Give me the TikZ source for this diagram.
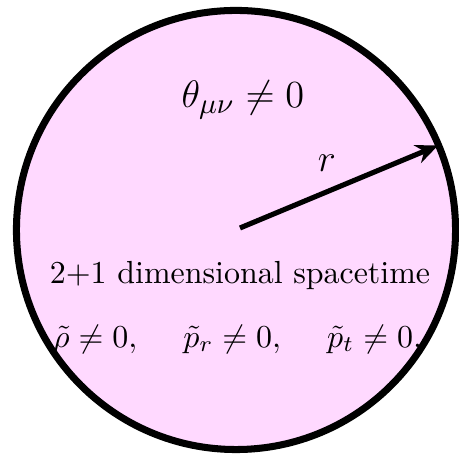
\documentclass[tikz,border=0pt]{standalone}
\usepackage{amsmath}
\usepackage{xcolor}
\usetikzlibrary{arrows.meta, positioning}
\definecolor{diskpink}{RGB}{255,217,255}

\begin{document}
\begin{tikzpicture}
      \useasboundingbox (-2.596,-2.475) rectangle (2.453,2.53);
      \node[circle, draw, line width=2.2pt, fill=diskpink, inner sep=0pt, minimum size=4.83cm] (disk) at (0,0) {};
      \coordinate (centre) at (0.044,0.022);
      \coordinate (tip) at (22.7:2.41);

      \draw[-{Stealth[length=7pt,width=6pt]}, line width=1.6pt] (centre) -- (tip);

      \node (theta) at (0.077,1.43) {\fontsize{12.8}{15}\selectfont $\theta_{\mu\nu}\neq 0$};
      \node (radius) at (1.0,0.737) {\large $r$};
      \node (space) at (0.044,-0.506) {2+1 dimensional spacetime};
      \node (fluid) at (0.017,-1.2) {$\tilde{\rho}\neq 0,\quad\; \tilde{p}_r\neq 0,\quad\; \tilde{p}_t\neq 0.$};
    \end{tikzpicture}
\end{document}
